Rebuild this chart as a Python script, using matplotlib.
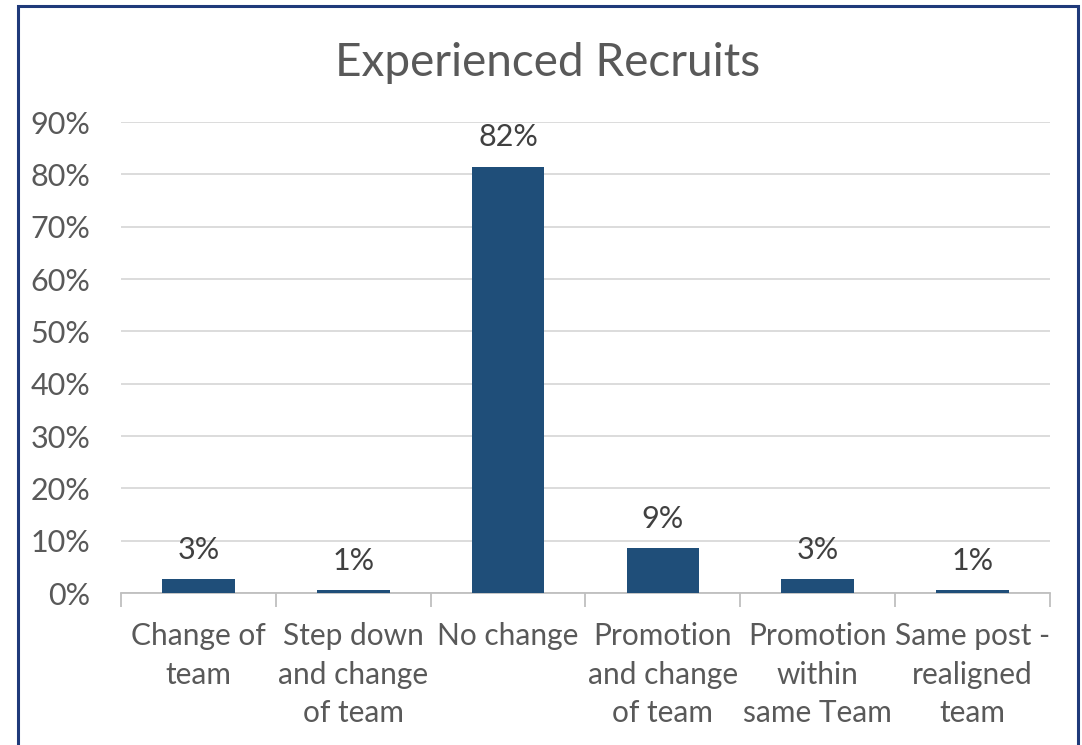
import numpy as np
import matplotlib.pyplot as plt
from matplotlib.patches import Rectangle
from matplotlib.ticker import FixedLocator, PercentFormatter

categories = ["Change of\nteam", "Step down\nand change\nof team", "No change",
              "Promotion\nand change\nof team", "Promotion\nwithin\nsame Team",
              "Same post -\nrealigned\nteam"]
shares = [0.027, 0.005, 0.815, 0.086, 0.027, 0.005]
share_labels = ["3%", "1%", "82%", "9%", "3%", "1%"]

bar_color = "#1F4E79"
text_color = "#595959"
plt.rcParams['font.family'] = ['Lato', 'DejaVu Sans']

fig = plt.figure(figsize=(10.82, 7.45), dpi=100)
ax = fig.add_axes([0.1118, 0.204, 0.8586, 0.632])

x = np.arange(len(categories))
ax.bar(x, shares, width=0.47, color=bar_color, zorder=3)

for xi, v, lab in zip(x, shares, share_labels):
    ax.annotate(lab, (xi, v), xytext=(0, 11), textcoords="offset points",
                ha="center", va="bottom", fontsize=22, color="#404040")

ax.set_xlim(-0.5, len(categories) - 0.5)
ax.set_ylim(0, 0.9)
ax.set_yticks(np.arange(0, 0.91, 0.1))
ax.yaxis.set_major_formatter(PercentFormatter(1.0, decimals=0))
ax.grid(axis="y", color="#d9d9d9", lw=1.3, zorder=0)

ax.set_xticks(x)
ax.set_xticklabels(categories, fontsize=21.5, color=text_color, linespacing=1.45)
ax.xaxis.set_minor_locator(FixedLocator(np.arange(-0.5, len(categories), 1)))
ax.tick_params(axis="x", which="major", length=0, pad=21)
ax.tick_params(axis="x", which="minor", length=10, color="#bfbfbf", width=1.3)
ax.tick_params(axis="y", length=0, labelsize=22, labelcolor=text_color, pad=22)

for s in ["top", "right", "left"]:
    ax.spines[s].set_visible(False)
ax.spines["bottom"].set_color("#bfbfbf")
ax.spines["bottom"].set_linewidth(1.3)

fig.text(0.506, 0.916, "Experienced Recruits", ha="center", va="center",
         fontsize=33, color=text_color)

fig.patches.append(Rectangle((18 / 1082, -0.1), 1060 / 1082, 1.1 - 6 / 745,
                             transform=fig.transFigure, fill=False,
                             edgecolor="#1F3A7A", lw=2.2, zorder=10))

fig.savefig("out.png", dpi=100)
